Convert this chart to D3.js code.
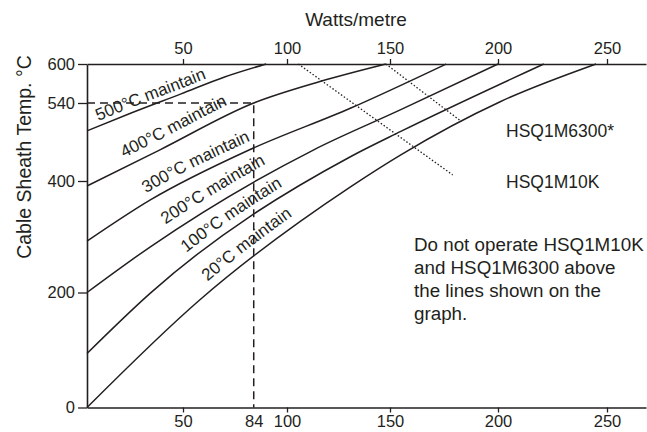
<!DOCTYPE html>
<html>
<head>
<meta charset="utf-8">
<script src="https://cdn.jsdelivr.net/npm/d3@7"></script>
<style>
body { margin: 0; background: #fff; }
svg { display: block; font-family: "Liberation Sans", Arial, Helvetica, sans-serif; }
</style>
</head>
<body>
<svg id="chart"></svg>
<script>
const WIDTH = 647, HEIGHT = 432;
const INK = "#231f20";

// tick values
const topTicks = [50, 100, 150, 200, 250];
const bottomTicks = [50, 84, 100, 150, 200, 250];
const tempTicks = [0, 200, 400, 540, 600];

// [watts/metre, sheath temp °C]
const curve500 = [[0, 490], [23, 522], [49, 554], [70, 580], [90, 600]];
const curve400 = [[0, 391], [38, 456], [84, 540], [116, 573], [148, 600]];
const curve300 = [[0, 292], [33, 366], [82, 456], [131, 531], [176, 600]];
const curve200 = [[0, 200], [33, 282], [113, 456], [155, 528], [200, 600]];
const curve100 = [[0, 94], [33, 199], [131, 444], [155, 489], [221, 600]];
const curve20 = [[0, 0], [58, 187], [131, 390], [155, 447], [201, 542], [245, 600]];
const maintainLabels = ["500°C maintain", "400°C maintain", "300°C maintain",
    "200°C maintain", "100°C maintain", "20°C maintain"];

// example reading: 84 W/m at 540 °C
const guideWatts = 84;
const guideTemp = 540;

// max. operating lines
const limit10K = [[105.5, 600], [179, 411]];
const limit6300 = [[148, 600], [183, 507]];

const productLabels = ["HSQ1M6300*", "HSQ1M10K"];
const noteLines = ["Do not operate HSQ1M10K", "and HSQ1M6300 above",
    "the lines shown on the", "graph."];

function offsetAtX(node, px) {
    // walk along the path until we reach the given x
    let lo = 0, hi = node.getTotalLength();
    for (let i = 0; i < 40; i++) {
        const mid = (lo + hi) / 2;
        if (node.getPointAtLength(mid).x < px) lo = mid; else hi = mid;
    }
    return lo;
}

function drawChart(svg) {
    svg.attr("width", WIDTH).attr("height", HEIGHT);

    // the printed graph is not quite linear, so the scales are piecewise
    const x = d3.scaleLinear()
        .domain([0, 50, 100, 150, 200, 250, 268])
        .range([87, 183, 287, 390, 498, 607, 646]);
    const y = d3.scaleLinear()
        .domain([0, 200, 400, 540, 600])
        .range([407.5, 292.5, 181, 103, 64]);

    const styleAxis = g => {
        g.select(".domain").attr("stroke", INK).attr("stroke-width", 1.6);
        g.selectAll(".tick line").attr("stroke", INK).attr("stroke-width", 1.3);
        g.selectAll(".tick text").attr("fill", INK).style("font-size", "16.5px");
        g.attr("font-family", null);
    };

    const bottom = svg.append("g")
        .attr("transform", `translate(0,${y(0)})`)
        .call(d3.axisBottom(x).tickValues(bottomTicks).tickSize(5).tickPadding(3).tickSizeOuter(0))
        .call(styleAxis);
    bottom.selectAll(".tick").filter(d => d === guideWatts).select("line").remove();

    svg.append("g")
        .attr("transform", `translate(0,${y(600)})`)
        .call(d3.axisTop(x).tickValues(topTicks).tickSize(5).tickPadding(5).tickSizeOuter(0))
        .call(styleAxis);

    svg.append("g")
        .attr("transform", `translate(${x(0)},0)`)
        .call(d3.axisLeft(y).tickValues(tempTicks).tickSize(9).tickPadding(3).tickSizeOuter(0))
        .call(styleAxis);

    svg.append("text")
        .attr("x", 356).attr("y", 26)
        .attr("text-anchor", "middle")
        .attr("fill", INK)
        .style("font-size", "19px")
        .text("Watts/metre");

    svg.append("text")
        .attr("transform", "translate(31,157)rotate(-90)")
        .attr("text-anchor", "middle")
        .attr("fill", INK)
        .style("font-size", "19.5px")
        .text("Cable Sheath Temp. °C");

    // dashed guide
    svg.append("path")
        .attr("d", `M${x(0)},${y(guideTemp)}H${x(guideWatts)}V${y(0)}`)
        .attr("fill", "none")
        .attr("stroke", INK)
        .attr("stroke-width", 1.5)
        .attr("stroke-dasharray", "8,5");

    const line = d3.line()
        .x(d => x(d[0]))
        .y(d => y(d[1]))
        .curve(d3.curveMonotoneX);

    const curves = [curve500, curve400, curve300, curve200, curve100, curve20];
    const labelStartX = [100, 128, 150, 171, 191, 213];
    const labelLift = [-5, -9, -8, -10, -8, -9];

    curves.forEach((c, i) => {
        const p = svg.append("path")
            .attr("id", "curve" + i)
            .attr("d", line(c))
            .attr("fill", "none")
            .attr("stroke", INK)
            .attr("stroke-width", 1.5);

        svg.append("text")
            .attr("dy", labelLift[i])
            .attr("fill", INK)
            .style("font-size", "17px")
            .append("textPath")
            .attr("href", "#curve" + i)
            .attr("startOffset", offsetAtX(p.node(), labelStartX[i]))
            .text(maintainLabels[i]);
    });

    // dotted limit lines
    [limit10K, limit6300].forEach(l => {
        svg.append("path")
            .attr("d", d3.line().x(d => x(d[0])).y(d => y(d[1]))(l))
            .attr("fill", "none")
            .attr("stroke", INK)
            .attr("stroke-width", 1.3)
            .attr("stroke-dasharray", "1.5,2");
    });

    svg.selectAll("text.product")
        .data(productLabels)
        .enter().append("text")
        .attr("class", "product")
        .attr("x", 506)
        .attr("y", (d, i) => 137 + i * 51)
        .attr("fill", INK)
        .style("font-size", "17.5px")
        .text(d => d);

    svg.selectAll("text.note")
        .data(noteLines)
        .enter().append("text")
        .attr("class", "note")
        .attr("x", 414)
        .attr("y", (d, i) => 251 + i * 23)
        .attr("fill", INK)
        .style("font-size", "18.8px")
        .text(d => d);
}

document.addEventListener("DOMContentLoaded", () => drawChart(d3.select("#chart")));
</script>
</body>
</html>
